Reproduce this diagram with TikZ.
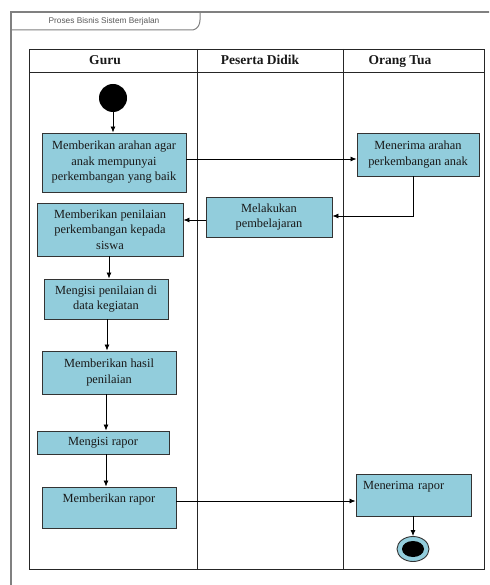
\documentclass[tikz,border=0pt]{standalone}
\usepackage{fontspec}
\setmainfont{Liberation Serif}
\newfontfamily\titlefont{Liberation Sans}
\usetikzlibrary{arrows.meta,shapes.geometric}
\definecolor{boxblue}{RGB}{146,205,220}
\definecolor{framegray}{RGB}{128,128,128}
\tikzset{
  act/.style={draw=black!80, fill=boxblue, line width=0.9pt, align=center, inner sep=2pt,
    font=\fontsize{12.4}{15.5}\selectfont, text=black!90},
  flow/.style={draw=black, line width=0.8pt, -{Latex[length=6pt,width=5pt]}},
  lane/.style={draw=black!85, line width=0.9pt},
  hdr/.style={font=\fontsize{13.5}{15}\selectfont\bfseries, text=black!90, text height=9pt, text depth=3pt},
}
\begin{document}
\begin{tikzpicture}[x=1pt,y=-1pt]
\useasboundingbox (0,0) rectangle (489,585);
\clip (0,0) rectangle (489,585);
% outer frame
\draw[framegray, line width=1.2pt] (11,600) -- (11,12) -- (500,12);
\draw[framegray, line width=1pt] (11,30) -- (193,30) .. controls (198,29) and (200,24) .. (200,20) -- (200,12);
\node[font=\titlefont\fontsize{8.3}{10}\selectfont, text=black!65] (title) at (104,21) {Proses Bisnis Sistem Berjalan};
% swimlanes
\draw[lane] (29,49) rectangle (484,569);
\draw[lane] (29,72) -- (484,72);
\draw[lane] (197,49) -- (197,569);
\draw[lane] (343,49) -- (343,569);
\node[hdr] (hguru) at (105,62) {Guru};
\node[hdr] (hpd) at (260,62) {Peserta Didik};
\node[hdr] (hot) at (400,62) {Orang Tua};
% start
\node[circle, fill=black, minimum size=28pt, inner sep=0] (start) at (113,98) {};
% activities
\node[act, minimum width=144pt, minimum height=59pt] (n1) at (114,162.5) {Memberikan arahan agar\\anak mempunyai\\perkembangan yang baik};
\node[act, minimum width=146pt, minimum height=53pt] (n2) at (110,229.5) {Memberikan penilaian\\perkembangan kepada\\siswa};
\node[act, minimum width=124pt, minimum height=40pt] (n3) at (106,299) {Mengisi penilaian di\\data kegiatan};
\node[act, minimum width=134pt, minimum height=43pt] (n4) at (109,372.5) {Memberikan hasil\\penilaian};
\node[act, minimum width=132pt, minimum height=23pt] (n5) at (103,442.5) {Mengisi rapor};
\node[act, minimum width=134pt, minimum height=41pt, inner ysep=3pt, text height=12pt, text depth=23pt] (n6) at (109,507.5) {Memberikan rapor};
\node[act, minimum width=122pt, minimum height=43pt] (n7) at (418,154.5) {Menerima arahan\\perkembangan anak};
\node[act, minimum width=126pt, minimum height=40pt] (n8) at (269,217) {Melakukan\\pembelajaran};
\node[act, minimum width=115pt, minimum height=42pt, inner ysep=3pt, inner xsep=7pt, text width=101pt, align=left, text height=12pt, text depth=24pt] (n9) at (413.5,495) {Menerima rapor};
% end
\node[ellipse, draw=black!80, fill=boxblue, line width=0.9pt, minimum width=32pt, minimum height=25pt, inner sep=0] (end) at (413,549) {};
\node[ellipse, fill=black, minimum width=22pt, minimum height=16pt, inner sep=0] (endin) at (end.center) {};
% flows
\draw[flow] (start) -- (n1.north -| start);
\draw[flow] (n1.east |- 0,159) -- (n7.west |- 0,159);
\draw[flow] (n7.south -| 413,0) -- (413,216) -- (n8.east |- 0,216);
\draw[flow] (n8.west |- 0,220) -- (n2.east |- 0,220);
\draw[flow] (n2.south -| 109,0) -- (n3.north -| 109,0);
\draw[flow] (n3.south -| 107,0) -- (n4.north -| 107,0);
\draw[flow] (n4.south -| 106,0) -- (n5.north -| 106,0);
\draw[flow] (n5.south -| 106,0) -- (n6.north -| 106,0);
\draw[flow] (n6.east |- 0,501) -- (n9.west |- 0,501);
\draw[flow] (n9.south -| end) -- (end.north);
\end{tikzpicture}
\end{document}
